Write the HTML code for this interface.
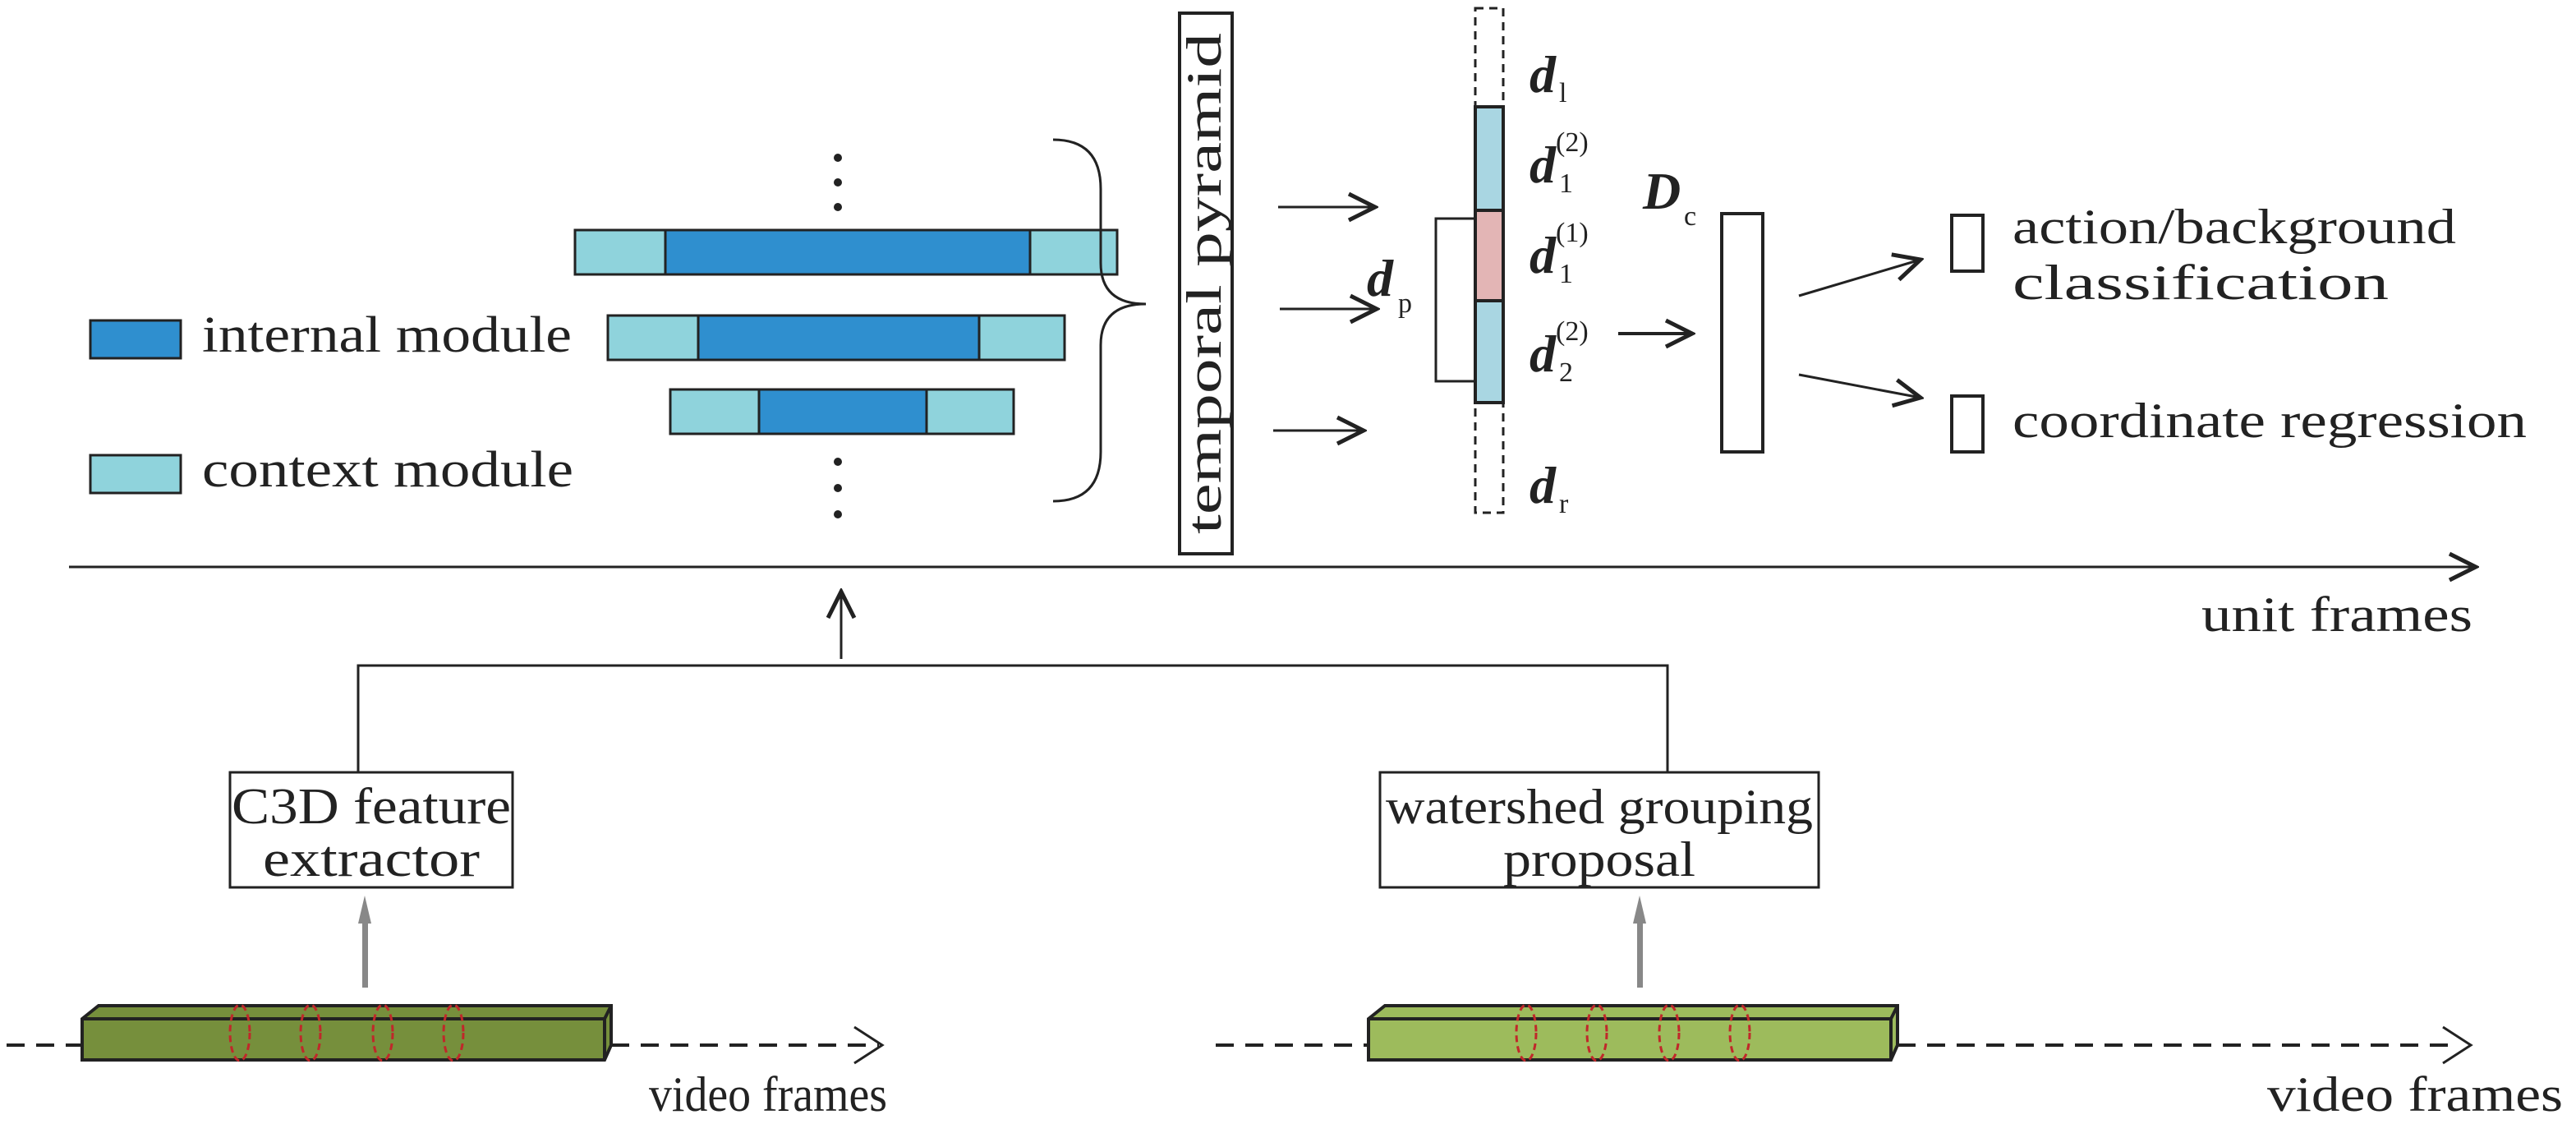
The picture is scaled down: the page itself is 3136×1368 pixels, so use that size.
<!DOCTYPE html>
<html><head><meta charset="utf-8"><style>html,body{margin:0;padding:0;background:#fff}svg{display:block}</style></head>
<body>
<svg width="3136" height="1368" viewBox="0 0 3136 1368" xmlns="http://www.w3.org/2000/svg" font-family="Liberation Serif, serif" fill="#222">
<defs>
<marker id="oa" viewBox="0 0 20 20" refX="18" refY="10" markerWidth="40" markerHeight="40" markerUnits="userSpaceOnUse" orient="auto"><path d="M2,2 L18,10 L2,18" fill="none" stroke="#222" stroke-width="2.5"/></marker>
</defs>
<!-- legend -->
<rect x="110" y="390" width="110" height="46" fill="#2f8fcf" stroke="#222" stroke-width="3"/>
<text x="246" y="428" font-size="62" textLength="450" lengthAdjust="spacingAndGlyphs">internal module</text>
<rect x="110" y="554" width="110" height="46" fill="#8fd3dc" stroke="#222" stroke-width="3"/>
<text x="246" y="592" font-size="62" textLength="452" lengthAdjust="spacingAndGlyphs">context module</text>
<!-- bars -->
<g stroke="#222" stroke-width="3">
<rect x="700" y="280" width="110" height="54" fill="#8fd3dc"/><rect x="810" y="280" width="444" height="54" fill="#2f8fcf"/><rect x="1254" y="280" width="106" height="54" fill="#8fd3dc"/>
<rect x="740" y="384" width="110" height="54" fill="#8fd3dc"/><rect x="850" y="384" width="342" height="54" fill="#2f8fcf"/><rect x="1192" y="384" width="104" height="54" fill="#8fd3dc"/>
<rect x="816" y="474" width="108" height="54" fill="#8fd3dc"/><rect x="924" y="474" width="204" height="54" fill="#2f8fcf"/><rect x="1128" y="474" width="106" height="54" fill="#8fd3dc"/>
</g>
<g fill="#222"><circle cx="1020" cy="192" r="5"/><circle cx="1020" cy="222" r="5"/><circle cx="1020" cy="252" r="5"/><circle cx="1020" cy="562" r="5"/><circle cx="1020" cy="594" r="5"/><circle cx="1020" cy="626" r="5"/></g>
<path d="M1282,170 Q1340,170 1340,230 L1340,320 Q1340,370 1395,370 Q1340,370 1340,420 L1340,550 Q1340,610 1282,610" fill="none" stroke="#222" stroke-width="3"/>
<!-- temporal pyramid -->
<rect x="1436" y="16" width="64" height="658" fill="#fff" stroke="#222" stroke-width="4"/>
<text transform="translate(1486,345) rotate(-90)" text-anchor="middle" font-size="60" textLength="610" lengthAdjust="spacingAndGlyphs">temporal pyramid</text>
<g stroke="#222" stroke-width="3" fill="none">
<line x1="1556" y1="252" x2="1674" y2="252" marker-end="url(#oa)"/>
<line x1="1558" y1="376" x2="1676" y2="376" marker-end="url(#oa)"/>
<line x1="1550" y1="524" x2="1660" y2="524" marker-end="url(#oa)"/>
</g>
<!-- vector column -->
<rect x="1796" y="10" width="34" height="614" fill="none" stroke="#222" stroke-width="3" stroke-dasharray="10,7"/>
<g stroke="#222" stroke-width="4"><rect x="1796" y="130" width="34" height="126" fill="#a9d6e2"/><rect x="1796" y="256" width="34" height="110" fill="#e3b5b5"/><rect x="1796" y="366" width="34" height="124" fill="#a9d6e2"/></g>
<path d="M1796,266 L1748,266 L1748,464 L1796,464" fill="none" stroke="#222" stroke-width="3"/>
<g font-weight="bold" font-style="italic" font-size="64">
<text x="1664" y="360">d</text><text x="1862" y="112">d</text><text x="1862" y="222">d</text><text x="1862" y="332">d</text><text x="1862" y="452">d</text><text x="1862" y="612">d</text>
<text x="2000" y="254">D</text>
</g>
<g font-size="34">
<text x="1702" y="380">p</text><text x="1898" y="124">l</text>
<text x="1898" y="234">1</text><text x="1894" y="184">(2)</text>
<text x="1898" y="344">1</text><text x="1894" y="294">(1)</text>
<text x="1898" y="464">2</text><text x="1894" y="414">(2)</text>
<text x="1898" y="624">r</text><text x="2050" y="274">c</text>
</g>
<line x1="1970" y1="406" x2="2060" y2="406" stroke="#222" stroke-width="4" marker-end="url(#oa)"/>
<rect x="2096" y="260" width="50" height="290" fill="#fff" stroke="#222" stroke-width="4"/>
<g stroke="#222" stroke-width="3" fill="none">
<line x1="2190" y1="360" x2="2338" y2="316" marker-end="url(#oa)"/>
<line x1="2190" y1="456" x2="2338" y2="484" marker-end="url(#oa)"/>
</g>
<rect x="2376" y="262" width="38" height="68" fill="#fff" stroke="#222" stroke-width="4"/>
<rect x="2376" y="482" width="38" height="68" fill="#fff" stroke="#222" stroke-width="4"/>
<text x="2450" y="296" font-size="60" textLength="540" lengthAdjust="spacingAndGlyphs">action/background</text>
<text x="2450" y="364" font-size="60" textLength="458" lengthAdjust="spacingAndGlyphs">classification</text>
<text x="2450" y="532" font-size="60" textLength="626" lengthAdjust="spacingAndGlyphs">coordinate regression</text>
<!-- axis -->
<line x1="84" y1="690" x2="3014" y2="690" stroke="#222" stroke-width="3" marker-end="url(#oa)"/>
<text x="2680" y="768" font-size="60" textLength="330" lengthAdjust="spacingAndGlyphs">unit frames</text>
<line x1="1024" y1="802" x2="1024" y2="720" stroke="#222" stroke-width="3" marker-end="url(#oa)"/>
<path d="M436,940 L436,810 L2030,810 L2030,940" fill="none" stroke="#222" stroke-width="3"/>
<!-- boxes -->
<rect x="280" y="940" width="344" height="140" fill="#fff" stroke="#222" stroke-width="3"/>
<text x="452" y="1002" text-anchor="middle" font-size="62" textLength="340" lengthAdjust="spacingAndGlyphs">C3D feature</text>
<text x="452" y="1066" text-anchor="middle" font-size="62" textLength="264" lengthAdjust="spacingAndGlyphs">extractor</text>
<rect x="1680" y="940" width="534" height="140" fill="#fff" stroke="#222" stroke-width="3"/>
<text x="1947" y="1002" text-anchor="middle" font-size="60" textLength="520" lengthAdjust="spacingAndGlyphs">watershed grouping</text>
<text x="1947" y="1066" text-anchor="middle" font-size="60" textLength="234" lengthAdjust="spacingAndGlyphs">proposal</text>
<!-- gray arrows -->
<g fill="#888"><rect x="441" y="1118" width="7" height="84"/><path d="M436,1124 L444,1090 L452,1124 Z"/><rect x="1993" y="1118" width="7" height="84"/><path d="M1988,1124 L1996,1090 L2004,1124 Z"/></g>
<!-- dashed lines -->
<g stroke="#222" stroke-width="4" fill="none" stroke-dasharray="22,14">
<line x1="8" y1="1272" x2="100" y2="1272"/><line x1="744" y1="1272" x2="1070" y2="1272"/>
<line x1="1480" y1="1272" x2="1664" y2="1272"/><line x1="2310" y1="1272" x2="2990" y2="1272"/>
</g>
<g stroke="#222" stroke-width="3" fill="none"><path d="M1040,1250 L1074,1272 L1040,1294"/><path d="M2974,1250 L3008,1272 L2974,1294"/></g>
<!-- green bars -->
<g stroke="#222" stroke-width="4">
<path d="M100,1240 L120,1224 L744,1224 L744,1272 L736,1290 L100,1290 Z" fill="#768f3c"/>
<line x1="100" y1="1240" x2="736" y2="1240"/><line x1="736" y1="1240" x2="744" y2="1224"/><line x1="736" y1="1240" x2="736" y2="1290"/>
<path d="M1666,1240 L1686,1224 L2310,1224 L2310,1272 L2302,1290 L1666,1290 Z" fill="#9dbb5c"/>
<line x1="1666" y1="1240" x2="2302" y2="1240"/><line x1="2302" y1="1240" x2="2310" y2="1224"/><line x1="2302" y1="1240" x2="2302" y2="1290"/>
</g>
<g stroke="#c0282a" stroke-width="3" fill="none" stroke-dasharray="8,5">
<ellipse cx="292" cy="1257" rx="12" ry="34"/><ellipse cx="378" cy="1257" rx="12" ry="34"/><ellipse cx="466" cy="1257" rx="12" ry="34"/><ellipse cx="552" cy="1257" rx="12" ry="34"/>
<ellipse cx="1858" cy="1257" rx="12" ry="34"/><ellipse cx="1944" cy="1257" rx="12" ry="34"/><ellipse cx="2032" cy="1257" rx="12" ry="34"/><ellipse cx="2118" cy="1257" rx="12" ry="34"/>
</g>
<text x="790" y="1352" font-size="60" textLength="290" lengthAdjust="spacingAndGlyphs">video frames</text>
<text x="2760" y="1352" font-size="60" textLength="360" lengthAdjust="spacingAndGlyphs">video frames</text>
</svg>
</body></html>
